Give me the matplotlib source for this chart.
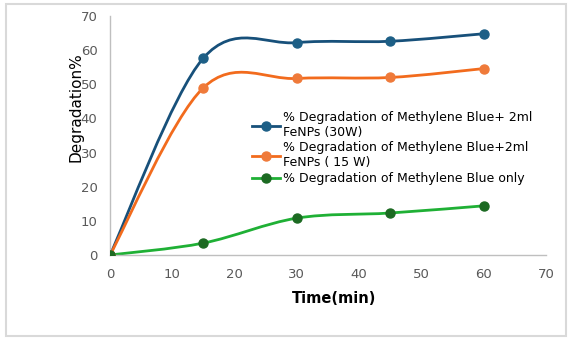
import matplotlib
matplotlib.use('Agg')
import matplotlib.pyplot as plt
from matplotlib.path import Path
from matplotlib.patches import PathPatch, Rectangle
from matplotlib.lines import Line2D

time = [0, 15, 30, 45, 60]
deg_30w = [0, 57.7, 62.2, 62.6, 64.8]
deg_15w = [0, 49.0, 51.7, 52.0, 54.6]
deg_only = [0, 3.5, 10.8, 12.3, 14.4]

labels = ['% Degradation of Methylene Blue+ 2ml\nFeNPs (30W)',
          '% Degradation of Methylene Blue+2ml\nFeNPs ( 15 W)',
          '% Degradation of Methylene Blue only']
line_cols = ['#17507a', '#f26b1d', '#1fb035']
mark_cols = ['#1d5f86', '#ef7a3a', '#1c6a22']


def smooth_path(x, y):
    # Excel-style smoothed line: cubic bezier segments through the points
    verts = [(x[0], y[0])]
    codes = [Path.MOVETO]
    n = len(x)
    for i in range(n - 1):
        x0, y0 = (x[i - 1], y[i - 1]) if i > 0 else (x[i], y[i])
        x3, y3 = (x[i + 2], y[i + 2]) if i + 2 < n else (x[i + 1], y[i + 1])
        c1 = (x[i] + (x[i + 1] - x0) / 6, y[i] + (y[i + 1] - y0) / 6)
        c2 = (x[i + 1] - (x3 - x[i]) / 6, y[i + 1] - (y3 - y[i]) / 6)
        verts += [c1, c2, (x[i + 1], y[i + 1])]
        codes += [Path.CURVE4] * 3
    return Path(verts, codes)


fig = plt.figure(figsize=(5.74, 3.44), dpi=100)
fig.patches.append(Rectangle((6 / 574, 8 / 344), 560 / 574, 332 / 344,
                             transform=fig.transFigure, fill=False,
                             edgecolor='#d9d9d9', lw=1.5))
ax = fig.add_axes([110 / 574, 89 / 344, 436 / 574, 239 / 344])

handles = []
for ys, lc, mc, lab in zip([deg_30w, deg_15w, deg_only], line_cols, mark_cols, labels):
    ax.add_patch(PathPatch(smooth_path(time, ys), fill=False, edgecolor=lc, lw=2, zorder=2))
    ax.plot(time, ys, 'o', color=mc, ms=6.5, zorder=3)
    handles.append(Line2D([], [], color=lc, lw=2, marker='o', ms=6.5,
                          markerfacecolor=mc, markeredgecolor=mc, label=lab))

ax.set_xlim(0, 70)
ax.set_ylim(0, 70)
ax.set_xticks(range(0, 71, 10))
ax.set_yticks(range(0, 71, 10))
ax.tick_params(length=0, labelsize=9.5, labelcolor='#595959', pad=9)
for s in ['top', 'right']:
    ax.spines[s].set_visible(False)
for s in ['left', 'bottom']:
    ax.spines[s].set_color('#bfbfbf')
    ax.spines[s].set_linewidth(1)
ax.set_xlabel('Time(min)', fontsize=10.5, fontweight='bold')
ax.xaxis.set_label_coords(0.515, -0.15)
ax.set_ylabel('Degradation%', fontsize=11)
ax.yaxis.set_label_coords(-0.06, 0.62)

ax.legend(handles=handles, loc='upper left', bbox_to_anchor=(0.3, 0.65),
          frameon=False, fontsize=9, handlelength=2.2, labelspacing=0.2,
          handletextpad=0.3)

fig.savefig('out.png', dpi=100)
